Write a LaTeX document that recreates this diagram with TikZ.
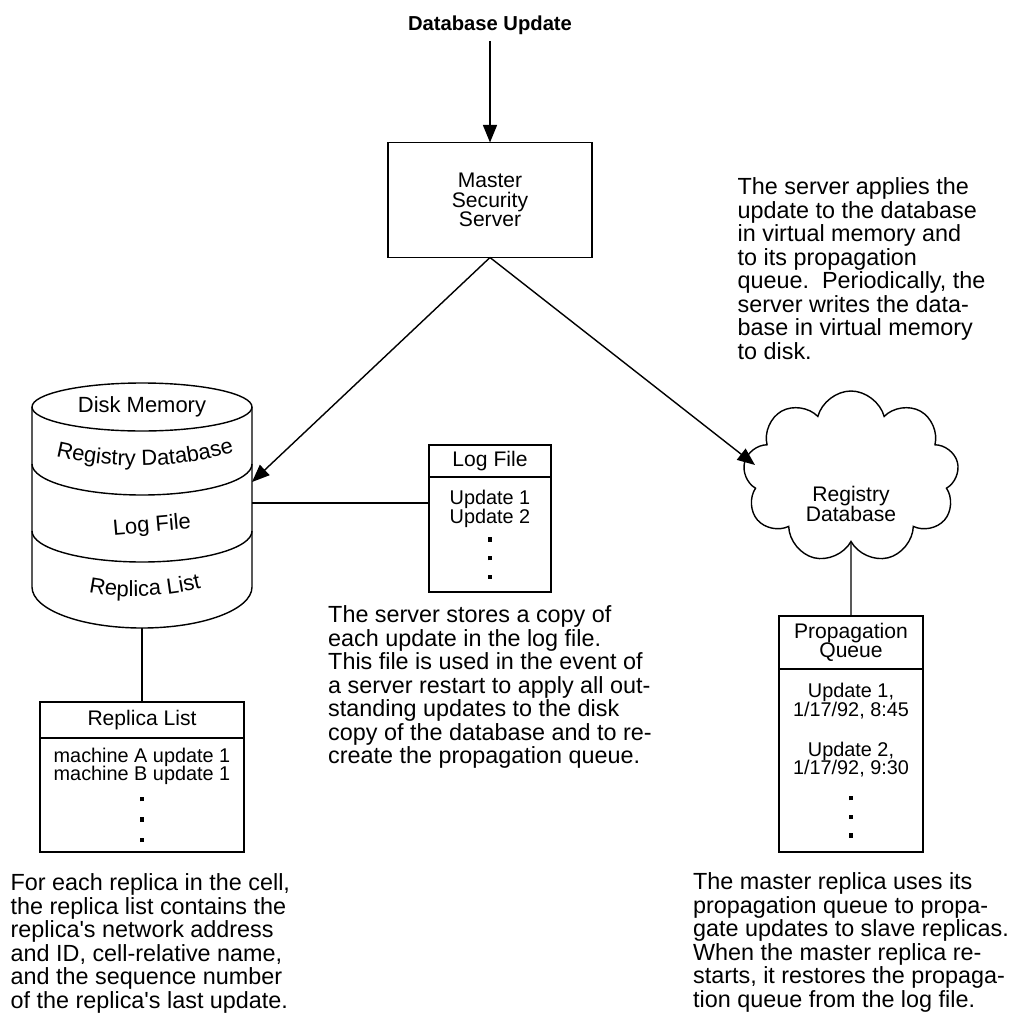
\documentclass[tikz,border=0pt]{standalone}
\usepackage{fontspec}
\setmainfont{Liberation Sans}
\newfontfamily\plainsans{Liberation Sans}
\usetikzlibrary{positioning,arrows.meta,shapes.symbols,decorations.text}
\newcommand{\parafont}{\plainsans\fontsize{13.3}{13.4}\selectfont}
\newcommand{\headfont}{\fontsize{12}{11}\selectfont\lineskiplimit=-20pt\lineskip=0pt}
\newcommand{\bodyfont}{\fontsize{11.3}{10.6}\selectfont\lineskiplimit=-20pt\lineskip=0pt}
\newcommand{\sqd}{\rule{0.085cm}{0.085cm}}
\begin{document}
\begin{tikzpicture}[line width=0.8pt, >={Triangle[length=10pt,width=8pt]},
	box/.style={draw, minimum width=#1, inner sep=0pt, outer sep=0pt, align=center},
	note/.style={align=left, inner sep=0pt, font=\parafont}]
	\useasboundingbox (0,0) rectangle (20.26,-20.26);
	\node[font=\bfseries\fontsize{11.5}{12}\selectfont] (title) at (9.8,-0.5) {Database Update};
	\node[box=4.08cm, minimum height=2.3cm, font=\headfont] (master) at (9.8,-4) {Master\\Security\\Server};
	\draw[->] (title) -- (master);
	\draw (0.64,-8.14) -- (0.64,-11.74) arc[start angle=180, end angle=360, x radius=2.2cm, y radius=0.82cm] -- (5.04,-8.14);
	\draw (2.84,-8.14) ellipse[x radius=2.2cm, y radius=0.48cm];
	\foreach \y in {9.28,10.62} { \draw (0.64,-\y) arc[start angle=180, end angle=360, x radius=2.2cm, y radius=0.62cm]; }
	\node[font=\fontsize{12.5}{13}\selectfont] (disklab) at (2.84,-8.14) {Disk Memory};
	\path[decorate, decoration={text along path, text align=center, text={|\fontsize{12.5}{13}\selectfont|Registry Database}}] (0.95,-9.08) .. controls (2.1,-9.4) and (3.6,-9.42) .. (4.85,-8.98);
	\node[font=\fontsize{12.5}{13}\selectfont, rotate=5] (loglab) at (3.04,-10.52) {Log File};
	\path[decorate, decoration={text along path, text align=center, text={|\fontsize{12.5}{13}\selectfont|Replica List}}] (1.6,-11.8) .. controls (2.3,-12.0) and (3.3,-11.96) .. (4.2,-11.72);
	\coordinate (diskR1) at (5.04,-9.64);
	\coordinate (diskR2) at (5.04,-10.06);
	\coordinate (diskB) at (2.84,-12.56);
	\node[box=2.44cm, minimum height=0.64cm, font=\headfont] (loghead) at (9.8,-9.22) {Log File};
	\node[box=2.44cm, minimum height=2.3cm, font=\bodyfont, below=0pt of loghead] (logbody) {Update 1\\Update 2\\\sqd\\\sqd\\\sqd};
	\draw (diskR2) -- (diskR2 -| logbody.west);
	\draw[->] (master.south) -- (diskR1);
	\node[note, below=0.26cm of logbody] (lognote) {The server stores a copy of\\each update in the log file.\\This file is used in the event of\\a server restart to apply all out-\\standing updates to the disk\\copy of the database and to re-\\create the propagation queue.};
	\node[box=4.08cm, minimum height=0.72cm, font=\headfont] (rephead) at (2.84,-14.4) {Replica List};
	\node[box=4.08cm, minimum height=2.28cm, font=\bodyfont, below=0pt of rephead] (repbody) {machine A update 1\\machine B update 1\\[1pt]\sqd\\[1pt]\sqd\\[1pt]\sqd};
	\draw (diskB) -- (rephead);
	\node[note, anchor=north west] (repnote) at (0.2,-17.46) {For each replica in the cell,\\the replica list contains the\\replica's network address\\and ID, cell-relative name,\\and the sequence number\\of the replica's last update.};
	\node[cloud, cloud puffs=9, draw, minimum width=4.32cm, minimum height=3.44cm] (regcloud) at (17.02,-9.54) {};
	\node[font=\headfont, align=center] (cloudlab) at (17.02,-10.08) {Registry\\Database};
	\coordinate (cloudW) at (15.1,-9.3);
	\draw[->] (master.south) -- (cloudW);
	\node[note, anchor=north west] (cloudnote) at (14.74,-3.54) {The server applies the\\update to the database\\in virtual memory and\\to its propagation\\queue.\ \ Periodically, the\\server writes the data-\\base in virtual memory\\to disk.};
	\node[box=2.88cm, minimum height=1.06cm, font=\headfont] (prophead) at (17.02,-12.85) {Propagation\\Queue};
	\node[box=2.88cm, minimum height=3.66cm, font=\bodyfont, below=0pt of prophead] (propbody) {Update 1,\\1/17/92, 8:45\\[12pt]Update 2,\\1/17/92, 9:30\\[4pt]\sqd\\\sqd\\\sqd};
	\draw (regcloud.south) -- (prophead);
	\node[note, below=0.4cm of propbody] (propnote) {The master replica uses its\\propagation queue to propa-\\gate updates to slave replicas.\\When the master replica re-\\starts, it restores the propaga-\\tion queue from the log file.};
\end{tikzpicture}
\end{document}
